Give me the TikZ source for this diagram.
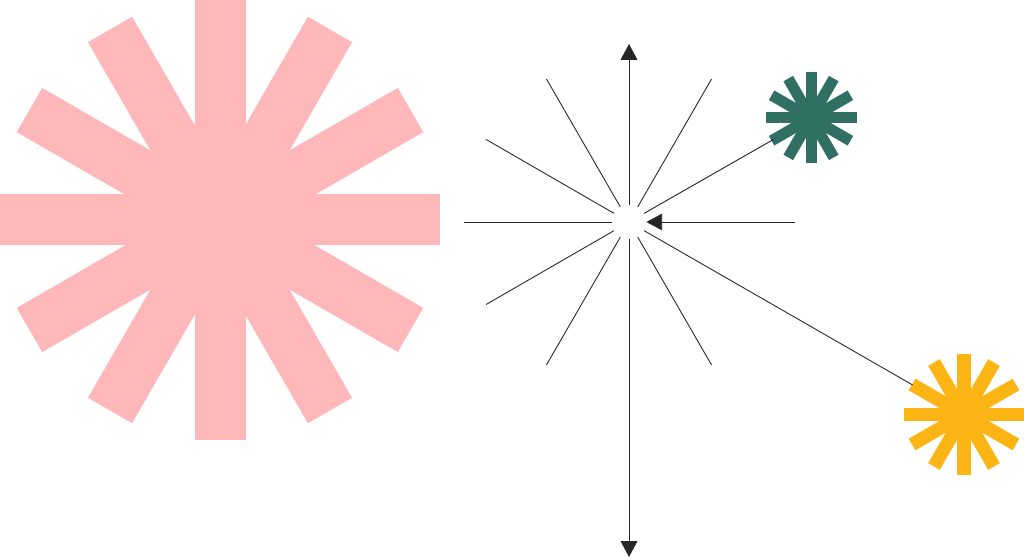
\documentclass[tikz,border=0pt]{standalone}
\usetikzlibrary{arrows.meta,calc}

\definecolor{pinkstar}{HTML}{FFB8BA}
\definecolor{greenstar}{HTML}{2F6F64}
\definecolor{yellowstar}{HTML}{FDB515}

% centre, half length, half width, colour
\newcommand{\drawburst}[4]{%
  \begin{scope}[shift={(#1)}]
    \foreach \a in {0,30,...,150}
      \fill[#4, rotate=\a] (-#2,-#3) rectangle (#2,#3);
  \end{scope}}

\tikzset{
  ray/.style={draw=black!85, line width=0.5pt},
  tip/.style={-{Triangle[length=9pt,width=9.5pt]}},
  spot/.style={circle, inner sep=0pt, minimum size=#1},
}

\begin{document}
\begin{tikzpicture}[x=0.02cm, y=0.02cm]
  \useasboundingbox (0,0) rectangle (1024,558);

  \drawburst{220,338}{220}{25.5}{pinkstar}

  \node[spot=1.72cm] (green) at (811,440) {};
  \drawburst{811,440}{45.5}{5.5}{greenstar}
  \node[spot=2.36cm] (yellow) at (964,143.5) {};
  \drawburst{964,143.5}{60}{6.7}{yellowstar}

  \node[spot=0.68cm] (hub) at (629,336) {};
  \coordinate (top) at (629,514);
  \coordinate (bottom) at (629,1);
  \coordinate (east) at (795,336);

  \foreach \a in {60,120,150,180,210,240,300}
    \draw[ray] (hub.\a) -- ($(hub.center)+(\a:165)$);

  \draw[ray, tip] (hub) -- (top);
  \draw[ray, tip] (hub) -- (bottom);
  \draw[ray, tip] (east) -- (hub);
  \draw[ray] (hub) -- (green);
  \draw[ray] (hub) -- (yellow);
\end{tikzpicture}
\end{document}
